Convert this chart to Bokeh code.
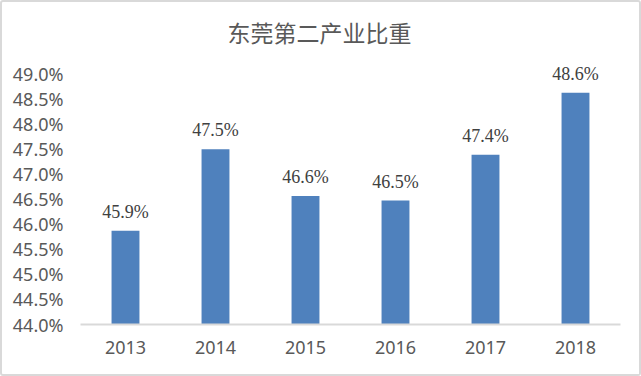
from bokeh.plotting import figure
from bokeh.models import ColumnDataSource, FixedTicker, PrintfTickFormatter, LabelSet, Range1d
from bokeh.embed import file_html
from bokeh.resources import INLINE

years = ["2013", "2014", "2015", "2016", "2017", "2018"]
shares = [45.87, 47.49, 46.56, 46.47, 47.38, 48.62]
labels = ["45.9%", "47.5%", "46.6%", "46.5%", "47.4%", "48.6%"]
y_ticks = [44.0, 44.5, 45.0, 45.5, 46.0, 46.5, 47.0, 47.5, 48.0, 48.5, 49.0]

src = ColumnDataSource(dict(year=years, share=shares, label=labels))

p = figure(x_range=years, y_range=Range1d(44.0, 49.3), width=641, height=376,
           output_backend="svg", toolbar_location=None,
           min_border_left=78, min_border_right=23, min_border_top=40, min_border_bottom=54)
p.styles = {"border": "2px solid #D9D9D9", "border-radius": "3px"}
p.title.text = "东莞第二产业比重"
p.title.align = "left"
p.title.text_font = "Noto Sans CJK SC"
p.title.text_font_size = "23px"
p.title.text_font_style = "normal"
p.title.text_color = "#595959"
p.title.offset = 147
p.title.standoff = 20

p.vbar(x="year", top="share", bottom=44.0, width=0.31, source=src,
       fill_color="#4F81BD", line_color=None)

p.add_layout(LabelSet(x="year", y="share", text="label", source=src,
                      text_align="center", text_baseline="bottom", y_offset=9,
                      text_font="Noto Sans", text_font_size="18px", text_color="#404040"))

p.xgrid.visible = False
p.ygrid.visible = False
p.outline_line_color = None

p.yaxis.ticker = FixedTicker(ticks=y_ticks)
p.yaxis.formatter = PrintfTickFormatter(format="%.1f%%")
p.yaxis.axis_line_color = None
p.yaxis.major_tick_line_color = None
p.yaxis.minor_tick_line_color = None
p.yaxis.major_label_text_font = "Noto Sans"
p.yaxis.major_label_text_font_size = "18px"
p.yaxis.major_label_text_color = "#595959"
p.yaxis.major_label_standoff = 11

p.xaxis.axis_line_color = "#D9D9D9"
p.xaxis.axis_line_width = 2
p.xaxis.major_tick_line_color = None
p.xaxis.minor_tick_line_color = None
p.xaxis.major_label_text_font = "Noto Sans"
p.xaxis.major_label_text_font_size = "18px"
p.xaxis.major_label_text_color = "#595959"
p.xaxis.major_label_standoff = 10

open("out.html", "w").write(file_html(p, INLINE))
